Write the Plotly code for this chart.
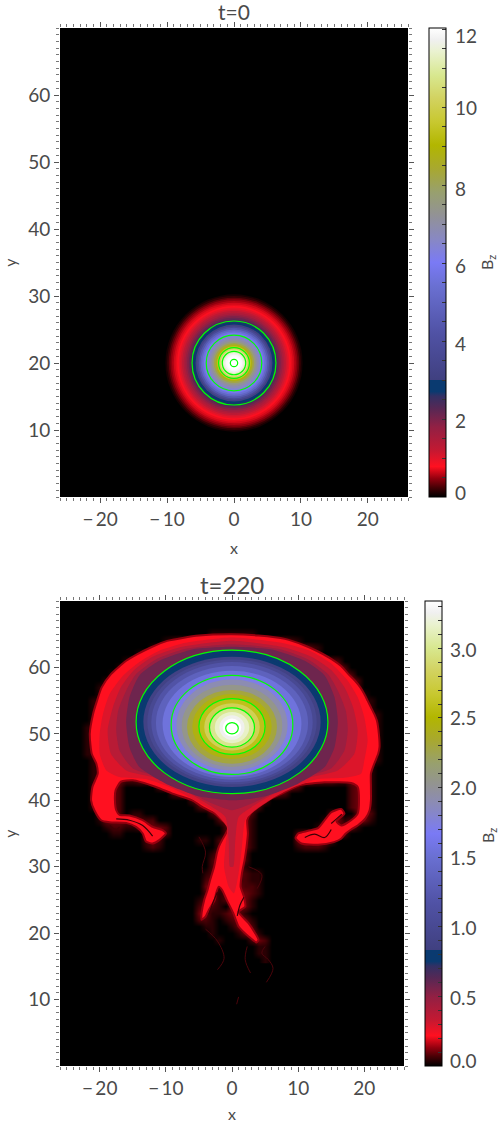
import plotly.graph_objects as go
from plotly.colors import sample_colorscale

W, H = 501, 1123
FONT = "Lato"
INK = "#4a4a4a"

# colour table, position on the bar -> colour
cmap = [
    [0.0, "rgb(0,0,0)"], [0.02, "rgb(70,0,5)"], [0.04, "rgb(150,0,15)"], [0.065, "rgb(255,16,32)"],
    [0.1, "rgb(195,25,50)"], [0.15, "rgb(145,32,68)"], [0.19, "rgb(85,40,85)"], [0.215, "rgb(50,48,100)"],
    [0.225, "rgb(10,58,112)"], [0.25, "rgb(10,58,112)"], [0.2501, "rgb(64,64,128)"],
    [0.35, "rgb(80,82,165)"], [0.45, "rgb(106,112,210)"], [0.5, "rgb(122,122,245)"], [0.55, "rgb(136,136,195)"],
    [0.6, "rgb(146,146,150)"], [0.65, "rgb(152,160,110)"], [0.7, "rgb(168,168,48)"], [0.75, "rgb(178,182,0)"],
    [0.8, "rgb(200,200,48)"], [0.85, "rgb(210,210,96)"], [0.9, "rgb(216,232,144)"], [0.95, "rgb(234,242,208)"],
    [0.975, "rgb(240,240,240)"], [1.0, "rgb(255,255,255)"],
]

# t=0 : radial profile of Bz, largest disc first
t0_zmax = 12.03
t0_radius = [10.25, 10.0, 9.75, 9.5, 9.25, 9.0, 8.75, 8.5, 8.25, 8.0, 7.75, 7.5, 7.25, 7.0, 6.75, 6.5, 6.25, 6.0,
             5.75, 5.5, 5.25, 5.0, 4.75, 4.5, 4.25, 4.0, 3.75, 3.5, 3.25, 3.0, 2.75, 2.5, 2.25, 2.0, 1.75, 1.5,
             1.25, 1.0, 0.75]
t0_bz = [0.08, 0.18, 0.32, 0.45, 0.55, 0.65, 0.72, 0.8, 0.95, 1.1, 1.3, 1.5, 1.75, 1.95, 2.15, 2.4, 2.65, 2.9,
         3.1, 3.7, 4.4, 5.0, 5.5, 5.9, 6.2, 6.5, 6.8, 7.1, 7.6, 8.2, 8.8, 9.5, 10.2, 10.8, 11.3, 11.7,
         11.9, 12.0, 12.03]
t0_centre_y = 20
t0_rings = [6.27, 4.15, 2.3, 1.75, 0.55]

# t=220 : dim glow round the plume on a 1 unit grid, one letter per cell
t1_zmax = 3.34
level_names = ".abcdefgh"
level_bz = [0.0, 0.04, 0.07, 0.10, 0.12, 0.13, 0.13, 0.13, 0.13]
field_x = list(range(-23, 24))
field_y = list(range(66, 15, -1))
field_rows = [
    "."*47,
    "."*20 + "aaaaaaa" + "."*20,
    "."*13 + "abc" + "c"*15 + "cba" + "."*13,
    "."*11 + "abccddd" + "e"*12 + "dddccba" + "."*10 + ".",
    "."*9 + "abccddeeff" + "g"*10 + "ffeddcba" + "."*9 + "..",
    "."*7 + "abccddeeffgg" + "h"*11 + "ggffeeddcb" + "."*7,
    "."*6 + "abccddeeffgg" + "h"*13 + "ggffeeddcb" + "."*6,
    "."*5 + "abccddeeffgg" + "h"*15 + "ggffeeddcb" + "."*5,
    "."*4 + "abccddeeffgg" + "h"*17 + "ggffeeddcb" + "."*4,
    "."*3 + "aabccddeeffgg" + "h"*17 + "ggffeeddcb" + "."*4,
    "."*3 + "aabccddeeffgg" + "h"*17 + "ggffeeddcba" + "."*3,
    "."*2 + "aabccddeeffgg" + "h"*17 + "ggffeeddccbaa" + "."*2,
    "."*2 + "aabccddeeffgg" + "h"*17 + "ggffeeddccbaa" + "."*2,
    "."*2 + "aabccddeeffgg" + "h"*17 + "ggffeeddcccbaa" + ".",
    "."*2 + "aabccddeeffgg" + "h"*17 + "ggffeeddcccbaa" + ".",
    "." + "aabbccddeeffgg" + "h"*17 + "ggffeeddcccbaa" + ".",
    "." + "aabbccddeeffgg" + "h"*17 + "ggffeeddcccbaa" + ".",
    "." + "aabbccddeeffgg" + "h"*17 + "ggffeeddcccbaa" + ".",
    "." + "aabbccddeeffgg" + "h"*17 + "ggffeeddcccbaa" + ".",
    "." + "aabbccddeeffgg" + "h"*17 + "ggffeeddcccbaa" + ".",
    "."*2 + "aabccddeeffgg" + "h"*17 + "ggffeeddcccbaa" + ".",
    "."*2 + "aabccddeeffgg" + "h"*17 + "ggffeeddccbaa" + "."*2,
    "."*2 + "aabccddeeffgg" + "h"*17 + "ggffeeddccbaa" + "."*2,
    "."*2 + "abccc" + "bb" + "ccdee" + "ffgg" + "h"*11 + "ggff" + "eddccc" + "bb" + "ccca" + "."*2,
    "."*2 + "acccb" + "."*5 + "bcdefg" + "h"*10 + "gfedcb" + "."*7 + "bcca" + "."*2,
    "."*2 + "acccb" + "."*7 + "bcdef" + "gghhhhgg" + "fedcb" + "."*9 + "bcca" + "."*2,
    "."*2 + "acccb" + "."*10 + "bcdeffffedcb" + "."*12 + "bcca" + "."*2,
    "."*2 + "acccb" + "."*11 + "bcdeeeedcb" + "."*13 + "bcca" + "."*2,
    "."*3 + "bccb" + "." + "aa" + "."*10 + "bcdedcb" + "."*11 + "bb" + ".."  + "ccb" + "."*2,
    "."*3 + "acccccbbb" + "."*9 + "bcddca" + "."*10 + "acca" + "bcca" + "."*2,
    "."*4 + "abbaabcccb" + "."*8 + "bcdca" + "."*9 + "accbcca" + "."*4,
    "."*5 + "aa" + "."*3 + "bccb" + "."*8 + "bcdca" + "."*6 + "bcbccccb" + "."*6,
    "."*10 + "bcb" + "."*5 + "aa" + "." + "bcdeca" + "."*6 + "ccbccb" + "."*8,
    "."*10 + "aba" + "."*8 + "bcdeca" + "."*6 + "abbba" + "."*9,
    "."*20 + "accddb" + "."*21,
    "."*20 + "bccddb" + "."*21,
    "."*20 + "bccdca" + "."*21,
    "."*19 + "abccdcb" + "aa" + "."*19,
    "."*19 + "bccdcbb" + "aa" + "."*19,
    "."*19 + "ccbcdcbba" + "."*19,
    "."*19 + "bcabdccba" + "."*19,
    "."*18 + "accabccca" + "."*20,
    "."*18 + "bcba.cbca" + "."*20,
    "."*18 + "ccaabcca." + "."*20,
    "."*18 + "bba.abcca" + "."*20,
    "."*18 + ".aa..accb" + "."*20,
    "."*20 + "a..." + "acca" + "."*19,
    "."*21 + "a...." + "bcb" + "."*18,
    "."*27 + "aa" + "."*18,
    "."*27 + "aa" + "."*18,
    "."*28 + "a" + "."*18,
]
field_bz = [[level_bz[level_names.index(c)] for c in row] for row in field_rows]

# plume outline and the nested levels inside it
plume_x = [0, 4, 8, 11, 13, 15, 16.5, 17.6, 18.6, 19.4, 20, 20.5, 21, 21.5, 21.9, 22.2, 22.3, 22.1, 21.5, 21, 21, 21,
           20.8, 20.2, 19, 18, 17.2, 16.5, 15.4, 13, 10.5, 9.6, 10, 11.5, 13, 14, 15, 16.5, 17, 15.8, 16.5, 18, 19,
           19.2, 19, 18, 14, 10, 7.5, 5.5, 4, 2.8, 2.3, 2.4, 2.2, 1.9, 1.5, 1.3, 1.8, 2, 1, 2.5, 3.5, 4, 3.7, 2.5,
           1, 0.2, -0.8, -1.5, -2, -2.4, -2.6, -3.5, -4, -4.6, -4.6, -4.2, -3.7, -3.3, -3, -2.7, -2.3, -2, -1.5,
           -0.5, -1.5, -2.6, -4.5, -6, -9, -11.5, -15, -16.8, -17.6, -17.7, -17.5, -17, -15.5, -13.5, -12, -10.5,
           -10, -11, -12, -13, -13.5, -14.5, -16, -18.5, -19.8, -20.8, -21.3, -21.1, -20.3, -20.5, -21.2, -21.5,
           -21, -20.4, -19.7, -18.3, -16, -14.3, -12.3, -9.8, -5, 0]
plume_y = [65, 64.8, 64.3, 63.3, 62.4, 61.3, 60.2, 59, 58, 57, 56, 55, 54, 53, 52, 50, 48, 47, 45.5, 44, 42, 40,
           38.5, 37.3, 36.2, 35.6, 35, 34.2, 33.7, 33.3, 33.5, 34.3, 35, 35.4, 35.8, 37, 38.2, 38.7, 38, 36.8, 36.2,
           37, 38, 40, 42, 42.6, 42.7, 42.2, 41, 40, 39, 38, 37, 35, 33, 31, 29, 27, 25.5, 24, 23.2, 21.5, 20, 19,
           18.6, 19.5, 21, 23, 25, 26.5, 27, 26, 25, 23.5, 22.5, 22, 23, 25, 26.5, 28, 29, 30, 32, 33, 34, 36, 37,
           38, 39, 40, 41, 42, 43, 42.8, 41.5, 40, 38.5, 37.8, 37.7, 37, 36, 35.5, 35, 34, 33.5, 33.8, 35, 36, 36.6,
           36.7, 37, 38.5, 40, 42, 44, 45.5, 47, 50, 53, 55, 57, 59, 61, 62, 63, 64, 64.8, 65]
core1_x = [0, 8, 12, 15, 17.5, 19, 20, 20.5, 20, 19.5, 17, 13, 9, 6, 3.5, 2, 1.5, 1, 0.3, -0.5, -1.2, -1, -0.8, -3, -6,
           -9, -13, -17, -19, -20, -20, -19.5, -18.5, -16.5, -14, -11, -7, 0]
core1_y = [64.5, 63.6, 62.4, 60.6, 58, 55.5, 52.5, 49, 46, 44, 43.4, 43.2, 41.8, 40.2, 38.5, 37, 33, 29, 26, 27, 30, 33,
           36, 38.5, 40.2, 41.8, 43.2, 43.5, 44.5, 47, 50, 53, 56, 58.7, 60.8, 62.5, 63.7, 64.5]
core2_x = [0, 8, 12, 15, 17, 18.3, 19, 18.5, 16, 12, 9, 6, 3, 1, 0.5, 0.2, -0.3, -0.5, -1, -3, -6, -9, -12, -16, -18.3,
           -18.8, -18, -16.8, -14.8, -12, -8, 0]
core2_y = [64, 63, 61.6, 59.6, 57, 54, 50.5, 47, 44.5, 43.5, 42.3, 40.8, 39, 37.5, 34, 30, 30, 34, 37.5, 39, 40.8, 42.3,
           43.5, 44.5, 47, 50.5, 54, 57, 59.6, 61.6, 63, 64]
core3_x = [0, 7, 11.5, 14.5, 16, 17.2, 17.5, 17, 15, 11, 7, 3, 0, -3, -7, -11, -15, -17, -17.5, -17.2, -16, -14.5,
           -11.5, -7, 0]
core3_y = [63.5, 62.8, 61.2, 59, 56.5, 53.5, 50.5, 47.5, 44.8, 43.5, 41.5, 39.5, 38.5, 39.5, 41.5, 43.5, 44.8, 47.5,
           50.5, 53.5, 56.5, 59, 61.2, 62.8, 63.5]
core4_x = [0, 6, 11, 14, 15.5, 16, 15.5, 14, 10, 5, 0, -5, -10, -14, -15.5, -16, -15.5, -14, -11, -6, 0]
core4_y = [63.1, 62.7, 61, 58.8, 55.5, 51.8, 48, 45, 42.5, 40.6, 40, 40.6, 42.5, 45, 48, 51.8, 55.5, 58.8, 61, 62.7, 63.1]
plume_levels = [(plume_x, plume_y, 0.218), (core1_x, core1_y, 0.285), (core2_x, core2_y, 0.37),
                (core3_x, core3_y, 0.47), (core4_x, core4_y, 0.58)]

# inner part of the t=220 blob, half width / lower / upper edge of each band
t1_band_a = [14.5, 13.9, 13.4, 12.8, 12.2, 11.5, 10.5, 9.2, 8.4, 7.6, 6.8, 6.0, 5.0, 4.2, 3.4, 2.6, 1.9, 1.4]
t1_band_lo = [41.0, 41.5, 42.0, 42.4, 42.7, 43.1, 43.5, 43.9, 44.5, 45.0, 45.5, 46.2, 46.9, 47.5, 48.0, 48.6, 49.1, 49.6]
t1_band_hi = [62.6, 62.1, 61.6, 61.2, 60.8, 60.2, 59.5, 58.8, 58.2, 57.4, 56.6, 56.0, 55.3, 54.6, 53.9, 53.3, 52.8, 52.3]
t1_band_bz = [0.76, 0.82, 0.88, 1.0, 1.18, 1.35, 1.55, 1.72, 1.9, 2.05, 2.3, 2.45, 2.6, 2.8, 3.0, 3.15, 3.25, 3.34]

# contour rings of t=220
t1_ring_a = [14.5, 9.2, 5.0, 3.4, 0.95]
t1_ring_lo = [41.0, 43.9, 46.9, 48.0, 50.0]
t1_ring_hi = [62.6, 58.8, 55.3, 53.9, 51.7]

# faint wisps under the stem
wisps = [
    ([5.0, 4.5, 5.5, 6.2, 5.2], [18.0, 17.0, 16.0, 14.7, 12.6]),
    ([2.3, 2.0, 2.8], [18.0, 16.0, 14.0]),
    ([-4.0, -2.2, -1.2, -2.2], [20.6, 18.8, 16.2, 14.5]),
    ([1.0, 0.7], [10.4, 9.3]),
    ([-5.0, -4.0, -4.5, -4.4], [34.5, 32.2, 30.0, 29.0]),
    ([2.5, 4.5, 3.8], [30.0, 28.8, 26.7]),
]

# dark streaks inside the lobes and the stem foot
streaks = [
    ([-17.5, -15.5, -13.5, -12.0], [37.2, 37.0, 36.2, 34.6]),
    ([-18.5, -17.5, -17.0], [36.2, 35.6, 36.0]),
    ([11.0, 12.5, 14.0, 15.0], [34.4, 34.9, 34.4, 35.6]),
    ([15.0, 15.8, 16.6], [36.5, 37.2, 37.9]),
    ([-3.5, -2.8, -2.2], [22.8, 24.8, 26.2]),
    ([0.8, 1.2, 1.8], [22.6, 24.2, 25.4]),
]

x_ticks = [-20, -10, 0, 10, 20]
x_labels = ["\u2212\u200920", "\u2212\u200910", "0", "10", "20"]
y_ticks = [10, 20, 30, 40, 50, 60]
bar0_ticks = [i / 2 for i in range(0, 25)]
bar0_labels = ["0", "2", "4", "6", "8", "10", "12"]
bar0_label_px = [492, 421, 343, 265, 188, 108, 35]
bar1_ticks = [i / 10 for i in range(0, 34)]
bar1_labels = ["0.0", "0.5", "1.0", "1.5", "2.0", "2.5", "3.0"]
bar1_label_px = [1060, 997, 927, 857, 787, 717, 649]


def fx(px):
    return px / W


def fy(px):
    return 1 - px / H


def axis_style(domain, anchor, ticks, labels, title, standoff):
    return dict(domain=domain, anchor=anchor, range=[-26, 26] if title == "x" else [0, 70],
                tickmode="array", tickvals=ticks, ticktext=labels, ticklen=5, ticks="outside", tickwidth=1,
                tickcolor="#555", mirror="ticks", showline=False, showgrid=False, zeroline=False,
                minor=dict(dtick=1, ticks="outside", ticklen=3, tickwidth=1, tickcolor="#777", showgrid=False),
                tickfont=dict(family=FONT, size=19, color=INK),
                title=dict(text=title, font=dict(family=FONT, size=16, color=INK), standoff=standoff))


def colorbar(x, top, bottom, ticks):
    return dict(x=fx(x), xanchor="left", y=fy(bottom), yanchor="bottom", xpad=0, ypad=0,
                thickness=17, thicknessmode="pixels", len=bottom - top, lenmode="pixels",
                outlinecolor="black", outlinewidth=1, tickmode="array", tickvals=ticks, showticklabels=False,
                ticks="inside", ticklen=4, tickcolor="#333")


def text_at(text, px, py, size, **kw):
    kw.setdefault("xanchor", "center")
    return dict(text=text, x=fx(px), y=fy(py), xref="paper", yref="paper", yanchor="middle", showarrow=False,
                font=dict(family=FONT, size=size, color=INK), **kw)


fig = go.Figure()

fig.add_trace(go.Scatter(x=[0], y=[t0_centre_y], mode="markers", xaxis="x", yaxis="y", showlegend=False,
                         marker=dict(size=1, color=[t0_zmax], colorscale=cmap, cmin=0, cmax=t0_zmax, showscale=True,
                                     colorbar=colorbar(429, 28, 497, bar0_ticks))))

fig.add_trace(go.Heatmap(x=field_x, y=field_y, z=field_bz, xaxis="x2", yaxis="y2", zsmooth="best",
                         colorscale=cmap, zmin=0, zmax=t1_zmax, hoverinfo="skip",
                         colorbar=colorbar(424.5, 601, 1066, bar1_ticks)))

for wx, wy in wisps:
    fig.add_trace(go.Scatter(x=wx, y=wy, mode="lines", xaxis="x2", yaxis="y2", showlegend=False,
                             line=dict(color="rgb(75,4,10)", width=1, shape="spline")))

for i, (px_, py_, v) in enumerate(plume_levels):
    col = sample_colorscale(cmap, [v / t1_zmax])[0]
    edge = dict(width=2, color="rgb(150,0,15)") if i == 0 else dict(width=0)
    fig.add_trace(go.Scatter(x=px_, y=py_, mode="lines", fill="toself", fillcolor=col, xaxis="x2", yaxis="y2",
                             showlegend=False, hoverinfo="skip", line=dict(shape="spline", smoothing=0.6, **edge)))

for sx, sy in streaks:
    fig.add_trace(go.Scatter(x=sx, y=sy, mode="lines", xaxis="x2", yaxis="y2", showlegend=False,
                             line=dict(color="rgb(60,0,6)", width=1.2, shape="spline")))

shapes = []
for r, v in zip(t0_radius, t0_bz):
    col = sample_colorscale(cmap, [v / t0_zmax])[0]
    shapes.append(dict(type="circle", xref="x", yref="y", x0=-r, x1=r, y0=t0_centre_y - r, y1=t0_centre_y + r,
                       fillcolor=col, line_width=0, layer="above"))
for r in t0_rings:
    shapes.append(dict(type="circle", xref="x", yref="y", x0=-r, x1=r, y0=t0_centre_y - r, y1=t0_centre_y + r,
                       line=dict(color="#00ff00", width=1.2), layer="above"))
for a, lo, hi, v in zip(t1_band_a, t1_band_lo, t1_band_hi, t1_band_bz):
    col = sample_colorscale(cmap, [v / t1_zmax])[0]
    shapes.append(dict(type="circle", xref="x2", yref="y2", x0=-a, x1=a, y0=lo, y1=hi,
                       fillcolor=col, line_width=0, layer="above"))
for a, lo, hi in zip(t1_ring_a, t1_ring_lo, t1_ring_hi):
    shapes.append(dict(type="circle", xref="x2", yref="y2", x0=-a, x1=a, y0=lo, y1=hi,
                       line=dict(color="#00ff00", width=1.2), layer="above"))

annots = [
    text_at("t=0", 234, 12, 21),
    text_at("t=220", 231.5, 584, 24),
    text_at("B<sub>z</sub>", 488, 263, 16, textangle=-90),
    text_at("B<sub>z</sub>", 488, 836, 16, textangle=-90),
]
for label, py in zip(bar0_labels, bar0_label_px):
    annots.append(text_at(label, 453, py, 19, xanchor="left"))
for label, py in zip(bar1_labels, bar1_label_px):
    annots.append(text_at(label, 448, py, 19, xanchor="left"))

fig.update_layout(
    width=W, height=H, margin=dict(l=0, r=0, t=0, b=0), paper_bgcolor="white", plot_bgcolor="black",
    showlegend=False, shapes=shapes, annotations=annots,
    xaxis=axis_style([fx(60), fx(408)], "y", x_ticks, x_labels, "x", 14),
    yaxis=axis_style([fy(497), fy(28)], "x", y_ticks, None, "y", 17),
    xaxis2=axis_style([fx(60), fx(404)], "y2", x_ticks, x_labels, "x", 14),
    yaxis2=axis_style([fy(1066), fy(601)], "x2", y_ticks, None, "y", 17),
)

fig.write_html("out.html", config=dict(displayModeBar=False), post_script="document.body.style.margin='0';")
